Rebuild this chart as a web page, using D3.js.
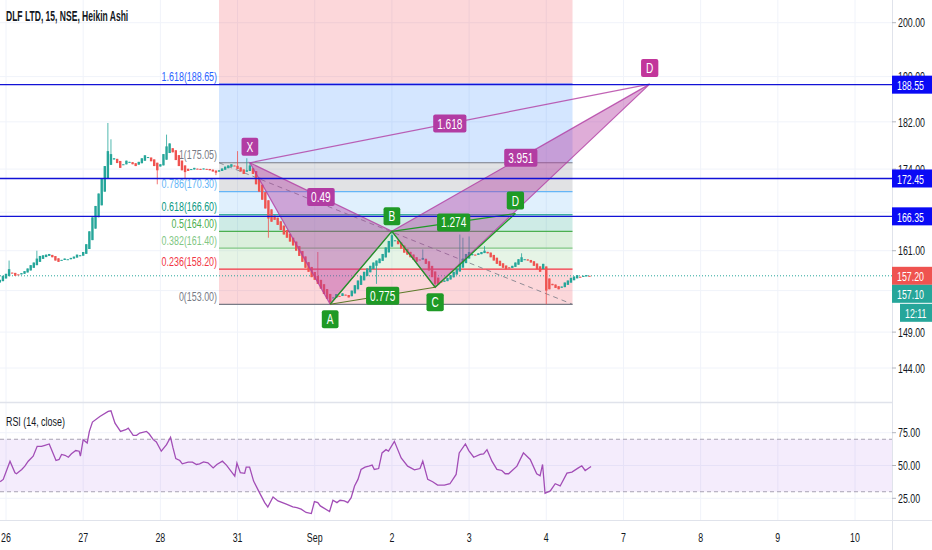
<!DOCTYPE html>
<html>
<head>
<meta charset="utf-8">
<script src="https://cdn.jsdelivr.net/npm/d3@7"></script>
<style>
  body { margin: 0; background: #fff; }
  svg { display: block; }
</style>
</head>
<body>
<svg id="chart"></svg>
<script>
// ─── Data ──────────────────────────────────────────────────────
// Heikin Ashi closes, 15 min bars, one array per session
const aug25 = [156.6, 157.2];
const aug26 = [157.5, 158.2, 157.6, 157.2, 157.4, 157.6, 157.9, 158.3, 158.8, 159.2, 159.8, 160.2, 160.3,
               160.4, 160.5, 160.0, 159.5, 159.3, 159.6, 159.8, 159.7, 159.9, 160.1, 160.4, 160.3];
const aug27 = [160.8, 162.0, 164.0, 166.2, 168.0, 170.0, 172.5, 174.5, 177.0, 176.5, 175.8, 175.0, 174.2,
               174.8, 175.4, 175.2, 174.8, 174.5, 175.2, 175.8, 176.3, 176.0, 175.3, 174.5, 173.8];
const aug28 = [174.8, 176.5, 177.8, 178.3, 176.8, 175.5, 174.5, 173.8, 173.5, 173.7, 174.0, 174.2, 174.0,
               173.9, 174.1, 174.0, 173.8, 173.6, 173.4, 173.8, 174.1, 174.4, 174.6, 174.8, 174.5];
const aug31 = [174.0, 173.6, 173.2, 173.8, 174.6, 173.2, 171.5, 170.3, 169.0, 167.6, 166.0, 165.5, 165.8,
               165.0, 164.2, 163.5, 163.0, 162.4, 161.8, 161.0, 160.2, 159.3, 158.4, 157.8, 157.0];
const sep1  = [156.6, 156.0, 155.3, 154.5, 153.8, 153.3, 154.0, 154.5, 154.2, 154.6, 154.3, 154.0, 155.0,
               155.8, 156.5, 157.2, 157.8, 158.3, 158.7, 159.2, 159.5, 159.8, 160.5, 161.5, 162.5];
const sep2  = [163.4, 162.6, 162.0, 161.3, 160.7, 160.4, 160.0, 159.6, 159.3, 159.6, 159.9, 159.0, 158.0,
               157.0, 156.0, 155.9, 156.2, 156.5, 156.9, 157.3, 157.8, 158.3, 159.0, 159.8, 160.5];
const sep3  = [160.8, 160.5, 160.3, 160.6, 160.8, 161.0, 160.6, 160.0, 159.5, 159.0, 158.7, 158.4, 158.2,
               158.3, 158.7, 159.2, 159.7, 160.0, 159.7, 159.5, 159.2, 158.7, 158.2, 157.8, 159.0];
const sep4  = [155.0, 155.2, 155.8, 155.4, 155.2, 155.6, 156.2, 156.5, 156.9, 157.1, 157.3, 157.0, 157.2,
               157.3, 157.2];
const FIRST_BAR = -2;       // index of first bar (Aug 26 open = 0)
const FIRST_OPEN = 156.2;

// Notable wicks [bar, price]
const wickHighs = [[1, 159.5], [10, 161], [33, 181.8], [34, 179], [52, 179.8], [75, 177], [78, 175.8],
                   [79, 175.05], [101, 160.8], [125, 164.0], [135, 161.2], [147, 163.5], [148, 163.0],
                   [150, 163.2], [155, 161.7], [167, 160.6]];
const wickLows  = [[49, 171.5], [58, 172.3], [68, 173], [85, 163], [105, 153.0], [120, 156],
                   [139, 155.5], [175, 153.0]];

// Day labels on the time axis (25 bars per session)
const dayLabels = ["26", "27", "28", "31", "Sep", "2", "3", "4", "7", "8", "9", "10"];
const BARS_PER_DAY = 25;

const priceTicks = [144, 149, 155, 161, 167, 174, 182, 190, 200];
const rsiTicks = [25, 50, 75];

// Fibonacci retracement
const fibLevels = [1.618, 1, 0.786, 0.618, 0.5, 0.382, 0.236, 0];
const fibPrices = [188.65, 175.05, 170.30, 166.60, 164.00, 161.40, 158.20, 153.00];
const fibColors = ["#2962ff", "#787b86", "#64b5f6", "#089981", "#4caf50", "#81c784", "#f23645", "#787b86"];
const fibFills  = ["rgba(242,54,69,0.2)", "rgba(41,128,255,0.2)", "rgba(120,123,134,0.22)",
                   "rgba(100,181,246,0.2)", "rgba(8,153,129,0.2)", "rgba(76,175,80,0.2)",
                   "rgba(129,199,132,0.2)", "rgba(242,54,69,0.2)"];
const fibBars = [69, 183.5];

// XABCD (magenta) and ABCD (green) patterns [bar, price]
const xabcdPoints = { X: [79, 175.05], A: [105, 153.0], B: [125, 164.0], C: [139, 155.5], D: [208.5, 188.65] };
const xabcdRatios = [["X", "B", "0.49"], ["B", "D", "3.951"], ["X", "D", "1.618"]];
const abcdPoints = { A: [105, 153.0], B: [125, 164.0], C: [139, 155.5], D: [165, 166.8] };
const abcdRatios = [["A", "C", "0.775"], ["B", "D", "1.274"]];

// Horizontal lines
const hLines = [188.55, 172.45, 166.35];
const lastPrice = 157.20;
const lastClose = "157.10";
const countdown = "12:11";

// RSI (14, close) trace [bar, value]
const rsiPoints = [
  [-1.9, 37.6], [-0.9, 39.4], [1.3, 53.3], [2.9, 44.4], [3.4, 43.7], [5.1, 47.0], [6.1, 49.5], [7.2, 53.3],
  [8.8, 57.1], [10.1, 64.6], [11.5, 64.6], [12.6, 65.4], [14.0, 66.4], [16.2, 53.8], [17.2, 54.6],
  [18.0, 58.4], [19.1, 57.8], [20.2, 56.3], [21.2, 58.9], [22.6, 61.4], [23.7, 60.9], [24.1, 57.1],
  [25.0, 69.7], [26.3, 67.2], [27.0, 76.0], [28.0, 83.1], [30.4, 87.4], [33.1, 91.2], [34.0, 91.7],
  [35.3, 82.3], [37.1, 76.0], [38.8, 77.3], [39.6, 78.5], [41.2, 73.0], [42.3, 73.0], [43.3, 74.7],
  [45.5, 76.0], [46.4, 74.0], [47.7, 69.7], [48.7, 67.9], [50.3, 60.9], [52.0, 65.9], [53.3, 71.5],
  [54.1, 63.4], [55.0, 55.3], [56.3, 53.8], [57.1, 51.3], [59.0, 52.5], [60.4, 52.5], [61.7, 50.8],
  [62.7, 51.3], [64.0, 52.8], [65.4, 52.0], [67.1, 48.2], [68.3, 50.8], [70.1, 53.3], [71.4, 50.3],
  [74.1, 41.9], [74.8, 51.8], [75.9, 44.5], [77.3, 44.0], [77.8, 48.8], [78.9, 48.8], [80.2, 38.1],
  [82.1, 29.3], [83.8, 21.7], [84.8, 18.4], [86.5, 26.0], [88.1, 23.0], [90.8, 20.5], [92.9, 18.4],
  [94.2, 17.9], [95.6, 16.7], [97.2, 14.2], [98.9, 13.4], [99.9, 22.5], [101.0, 21.7], [101.8, 19.2],
  [104.8, 14.9], [105.9, 23.5], [107.2, 21.7], [108.2, 23.5], [109.6, 23.0], [110.7, 21.7], [111.8, 25.5],
  [112.9, 34.4], [114.0, 39.4], [115.0, 47.0], [116.3, 48.8], [117.5, 49.5], [118.6, 50.3], [119.3, 47.0],
  [120.7, 47.7], [121.8, 59.6], [123.1, 62.1], [123.9, 60.9], [125.8, 68.4], [128.0, 55.8], [130.1, 49.5],
  [132.3, 46.7], [134.1, 47.7], [135.0, 53.3], [136.6, 39.4], [138.2, 37.6], [139.8, 35.1], [142.0, 35.1],
  [143.8, 36.1], [145.8, 43.2], [146.8, 59.6], [148.8, 66.4], [149.9, 61.4], [151.5, 56.3], [153.6, 58.4],
  [154.7, 58.9], [155.8, 62.1], [157.4, 53.3], [159.0, 47.0], [160.6, 46.2], [161.7, 43.7], [162.8, 43.7],
  [165.5, 49.5], [167.6, 59.6], [169.8, 54.6], [171.9, 43.7], [173.0, 42.2], [173.8, 50.8], [174.6, 28.8],
  [176.3, 30.6], [177.9, 36.1], [179.5, 34.4], [181.7, 44.2], [183.3, 45.0], [185.4, 48.2], [186.5, 49.8],
  [187.6, 46.2], [189.5, 49.2]
];
const rsiBand = [30, 70];

// ─── Layout ────────────────────────────────────────────────────
const W = 932, H = 550;
const PLOT_R = 892;
const MAIN_B = 402, RSI_B = 520;
const FONT = '"Liberation Sans", Arial, sans-serif';
const SX = 0.68;   // the reference text is horizontally squeezed

const GREEN = "#26a69a", RED = "#ef5350";
const PAT_MAG = "#b23ca3", PAT_GREEN = "#1f9a26";
const HLINE = "#1212d6", HBOX = "#0a0af5";

const svg = d3.select("#chart").attr("width", W).attr("height", H)
  .style("font-family", FONT);

svg.append("rect").attr("width", W).attr("height", H).attr("fill", "#fff");

const defs = svg.append("defs");
defs.append("clipPath").attr("id", "clip-main")
  .append("rect").attr("x", 0).attr("y", 0).attr("width", PLOT_R).attr("height", MAIN_B);
defs.append("clipPath").attr("id", "clip-rsi")
  .append("rect").attr("x", 0).attr("y", MAIN_B).attr("width", PLOT_R).attr("height", RSI_B - MAIN_B);

// Scales
const x = d3.scaleLinear().domain([0, 11 * BARS_PER_DAY]).range([6, 855]);
const y = d3.scaleLog().domain([144, 200]).range([368, 22.7]);
const yR = d3.scaleLinear().domain([25, 75]).range([498.3, 432.7]);

function txt(sel, px, py, s, o = {}) {
  return sel.append("text")
    .attr("transform", `translate(${px},${py}) scale(${o.sx || SX},1)`)
    .attr("text-anchor", o.anchor || "start")
    .attr("dominant-baseline", "central")
    .attr("font-size", o.size || 13)
    .attr("font-weight", o.weight || null)
    .attr("fill", o.color || "#131722")
    .text(s);
}

// Label in a rounded box, centred on (cx, cy)
function tag(sel, cx, cy, s, fill, o = {}) {
  const g = sel.append("g");
  const r = g.append("rect").attr("fill", fill).attr("rx", 2);
  const t = txt(g, cx, cy + 0.5, s, { anchor: "middle", size: o.size || 14, sx: 0.72, color: "#fff" });
  const w = Math.max(t.node().getComputedTextLength() * 0.72 + (o.pad || 5) * 2, o.minW || 0);
  const h = o.h || 18;
  r.attr("x", cx - w / 2).attr("y", cy - h / 2).attr("width", w).attr("height", h);
  return g;
}

// ─── Heikin Ashi candles ───────────────────────────────────────
const closes = [].concat(aug25, aug26, aug27, aug28, aug31, sep1, sep2, sep3, sep4);
const hiMap = new Map(wickHighs), loMap = new Map(wickLows);
const candles = [];
closes.forEach((c, k) => {
  const bar = FIRST_BAR + k;
  const o = k === 0 ? FIRST_OPEN : (candles[k - 1].o + candles[k - 1].c) / 2;
  const hi = Math.max(o, c, hiMap.get(bar) || 0);
  const lo = Math.min(o, c, loMap.has(bar) ? loMap.get(bar) : Infinity);
  candles.push({ bar, o, c, hi, lo });
});

// ─── Main pane ─────────────────────────────────────────────────
const main = svg.append("g").attr("clip-path", "url(#clip-main)");

// Grid
const dayBars = dayLabels.map((d, i) => i * BARS_PER_DAY);
main.append("g").selectAll("line").data(dayBars).join("line")
  .attr("x1", d => x(d)).attr("x2", d => x(d)).attr("y1", 0).attr("y2", MAIN_B)
  .attr("stroke", "#f0f3fa");
main.append("g").selectAll("line").data(priceTicks).join("line")
  .attr("x1", 0).attr("x2", PLOT_R).attr("y1", d => y(d)).attr("y2", d => y(d))
  .attr("stroke", "#f0f3fa");

// Fib bands
const fx0 = x(fibBars[0]), fx1 = x(fibBars[1]);
const fibBandTops = [0].concat(fibPrices.slice(0, -1).map(p => y(p)));
main.append("g").selectAll("rect").data(fibPrices).join("rect")
  .attr("x", fx0).attr("width", fx1 - fx0)
  .attr("y", (p, i) => fibBandTops[i])
  .attr("height", (p, i) => y(p) - fibBandTops[i])
  .attr("fill", (p, i) => fibFills[i]);

// Fib level lines and labels
main.append("g").selectAll("line").data(fibPrices).join("line")
  .attr("x1", fx0).attr("x2", fx1).attr("y1", p => y(p)).attr("y2", p => y(p))
  .attr("stroke", (p, i) => fibColors[i]).attr("stroke-width", 1.2);
fibPrices.forEach((p, i) => {
  txt(main, fx0 - 2, y(p) - 8, `${fibLevels[i]}(${p.toFixed(2)})`,
    { anchor: "end", size: 13.5, sx: 0.66, color: fibColors[i] });
});

// Fib trend line
main.append("line")
  .attr("x1", fx0).attr("y1", y(fibPrices[1])).attr("x2", fx1).attr("y2", y(fibPrices[7]))
  .attr("stroke", "#787b86").attr("stroke-width", 1).attr("stroke-dasharray", "5,4").attr("opacity", 0.8);

// Last price dotted line
main.append("line")
  .attr("x1", 0).attr("x2", PLOT_R).attr("y1", y(lastPrice)).attr("y2", y(lastPrice))
  .attr("stroke", GREEN).attr("stroke-width", 1).attr("stroke-dasharray", "1,2");

// Candles
const cg = main.append("g").selectAll("g").data(candles).join("g");
cg.append("line")
  .attr("x1", d => x(d.bar)).attr("x2", d => x(d.bar))
  .attr("y1", d => y(d.hi)).attr("y2", d => y(d.lo))
  .attr("stroke", d => d.c >= d.o ? GREEN : RED).attr("stroke-width", 0.8);
cg.append("rect")
  .attr("x", d => x(d.bar) - 1.2).attr("width", 2.4)
  .attr("y", d => y(Math.max(d.o, d.c)))
  .attr("height", d => Math.max(1, y(Math.min(d.o, d.c)) - y(Math.max(d.o, d.c))))
  .attr("fill", d => d.c >= d.o ? GREEN : RED);

// XABCD pattern
const P = k => [x(xabcdPoints[k][0]), y(xabcdPoints[k][1])];
const pat = main.append("g");
[["X", "A", "B"], ["B", "C", "D"]].forEach(tri => {
  pat.append("polygon")
    .attr("points", tri.map(k => P(k).join(",")).join(" "))
    .attr("fill", PAT_MAG).attr("fill-opacity", 0.42)
    .attr("stroke", PAT_MAG).attr("stroke-width", 1.2).attr("stroke-opacity", 0.8);
});
pat.append("line")
  .attr("x1", P("X")[0]).attr("y1", P("X")[1]).attr("x2", P("D")[0]).attr("y2", P("D")[1])
  .attr("stroke", PAT_MAG).attr("stroke-width", 1.2).attr("stroke-opacity", 0.8);

// ABCD pattern
const Q = k => [x(abcdPoints[k][0]), y(abcdPoints[k][1])];
const abcd = main.append("g");
abcd.append("polyline")
  .attr("points", ["A", "B", "C", "D"].map(k => Q(k).join(",")).join(" "))
  .attr("fill", "none").attr("stroke", PAT_GREEN).attr("stroke-width", 1.3);
abcdRatios.forEach(([a, b]) => {
  abcd.append("line")
    .attr("x1", Q(a)[0]).attr("y1", Q(a)[1]).attr("x2", Q(b)[0]).attr("y2", Q(b)[1])
    .attr("stroke", a === "A" ? "#5d7a2a" : PAT_GREEN).attr("stroke-width", 1.2);
});

// Horizontal lines
main.append("g").selectAll("line").data(hLines).join("line")
  .attr("x1", 0).attr("x2", PLOT_R).attr("y1", d => y(d)).attr("y2", d => y(d))
  .attr("stroke", HLINE).attr("stroke-width", 1.3);

// Pattern labels
xabcdRatios.forEach(([a, b, s]) => {
  tag(main, (P(a)[0] + P(b)[0]) / 2, (P(a)[1] + P(b)[1]) / 2, s, PAT_MAG, { pad: 4 });
});
abcdRatios.forEach(([a, b, s]) => {
  tag(main, (Q(a)[0] + Q(b)[0]) / 2, (Q(a)[1] + Q(b)[1]) / 2, s, PAT_GREEN, { pad: 4 });
});
tag(main, P("X")[0], P("X")[1] - 16, "X", PAT_MAG, { minW: 12 });
tag(main, P("D")[0], P("D")[1] - 16, "D", "#c2369b", { minW: 12 });
tag(main, Q("A")[0], Q("A")[1] + 15, "A", PAT_GREEN, { minW: 12 });
tag(main, Q("B")[0], Q("B")[1] - 15, "B", PAT_GREEN, { minW: 12 });
tag(main, Q("C")[0], Q("C")[1] + 15, "C", PAT_GREEN, { minW: 12 });
tag(main, Q("D")[0], Q("D")[1] - 13, "D", PAT_GREEN, { minW: 12 });

// Title
txt(svg, 6, 16, "DLF LTD, 15, NSE, Heikin Ashi", { size: 14, sx: 0.61, weight: 600 });

// ─── RSI pane ──────────────────────────────────────────────────
const rsi = svg.append("g").attr("clip-path", "url(#clip-rsi)");
rsi.append("g").selectAll("line").data(dayBars).join("line")
  .attr("x1", d => x(d)).attr("x2", d => x(d)).attr("y1", MAIN_B).attr("y2", RSI_B)
  .attr("stroke", "#f0f3fa");
rsi.append("g").selectAll("line").data(rsiTicks).join("line")
  .attr("x1", 0).attr("x2", PLOT_R).attr("y1", d => yR(d)).attr("y2", d => yR(d))
  .attr("stroke", "#f0f3fa");
rsi.append("rect")
  .attr("x", 0).attr("width", PLOT_R)
  .attr("y", yR(rsiBand[1])).attr("height", yR(rsiBand[0]) - yR(rsiBand[1]))
  .attr("fill", "rgba(156,80,225,0.11)");
rsi.append("g").selectAll("line").data(rsiBand).join("line")
  .attr("x1", 0).attr("x2", PLOT_R).attr("y1", d => yR(d)).attr("y2", d => yR(d))
  .attr("stroke", "#a8a3b3").attr("stroke-dasharray", "4,3");
rsi.append("path")
  .attr("d", d3.line().x(d => x(d[0])).y(d => yR(d[1]))(rsiPoints))
  .attr("fill", "none").attr("stroke", "#a24db6").attr("stroke-width", 1.3);
txt(svg, 6, 421, "RSI (14, close)", { size: 13.5, sx: 0.66 });

// ─── Borders ───────────────────────────────────────────────────
svg.append("line").attr("x1", 0).attr("x2", PLOT_R).attr("y1", MAIN_B + 0.5).attr("y2", MAIN_B + 0.5)
  .attr("stroke", "#e0e3eb").attr("stroke-width", 1.5);
svg.append("line").attr("x1", 0).attr("x2", W).attr("y1", RSI_B + 0.5).attr("y2", RSI_B + 0.5)
  .attr("stroke", "#e0e3eb");
svg.append("line").attr("x1", PLOT_R + 0.5).attr("x2", PLOT_R + 0.5).attr("y1", 0).attr("y2", H)
  .attr("stroke", "#e0e3eb");

// ─── Price axis ────────────────────────────────────────────────
const axis = svg.append("g");
// axis boxes: [centre y, text, fill, left x]
const boxes = hLines.map(p => [y(p), p.toFixed(2), HBOX, PLOT_R])
  .concat([[y(lastPrice), lastPrice.toFixed(2), RED, PLOT_R],
           [y(lastPrice) + 18, lastClose, GREEN, PLOT_R],
           [y(lastPrice) + 37, countdown, GREEN, 900]]);

priceTicks.forEach(p => {
  axis.append("line").attr("x1", PLOT_R).attr("x2", PLOT_R + 4).attr("y1", y(p)).attr("y2", y(p))
    .attr("stroke", "#b2b5be");
  // labels that sit under a box are hidden, as on the platform
  if (boxes.some(b => Math.abs(b[0] - y(p)) < 8)) return;
  txt(axis, 898, y(p), p.toFixed(2), { size: 13 });
});
rsiTicks.forEach(v => {
  axis.append("line").attr("x1", PLOT_R).attr("x2", PLOT_R + 4).attr("y1", yR(v)).attr("y2", yR(v))
    .attr("stroke", "#b2b5be");
  txt(axis, 898, yR(v), v.toFixed(2), { size: 13 });
});

boxes.forEach(([cy, s, fill, x0]) => {
  axis.append("rect").attr("x", x0).attr("y", cy - 9).attr("width", W - x0).attr("height", 18)
    .attr("fill", fill);
  txt(axis, x0 + 5, cy + 0.5, s, { size: 13, color: "#fff" });
});

// ─── Time axis ─────────────────────────────────────────────────
dayLabels.forEach((d, i) => {
  txt(svg, x(dayBars[i]), 537, d, { anchor: "middle", size: 13 });
});
</script>
</body>
</html>
